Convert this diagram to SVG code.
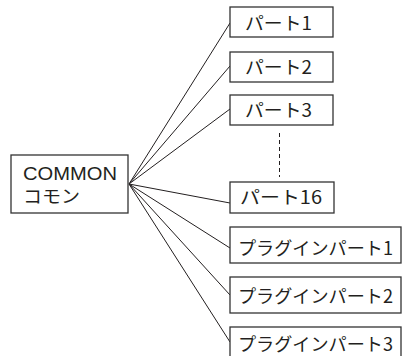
<svg xmlns="http://www.w3.org/2000/svg" width="402" height="356" viewBox="0 0 402 356">
<style>
.box{fill:#fff;stroke:#333;stroke-width:1.3}
.t{font-family:"Noto Sans CJK JP","Liberation Sans",sans-serif;font-size:18px;fill:#231f20}
.l{font-family:"Liberation Sans","Noto Sans CJK JP",sans-serif;font-size:18px;fill:#231f20}
.c{stroke:#231f20;stroke-width:1;fill:none}
.d{stroke:#231f20;stroke-width:1;fill:none;stroke-dasharray:4 3}
</style>
<rect width="402" height="356" fill="#fff"/>
<g id="connectors">
<line class="c" x1="129" y1="184" x2="230" y2="23"/>
<line class="c" x1="129" y1="184" x2="230" y2="66"/>
<line class="c" x1="129" y1="184" x2="230" y2="109"/>
<line class="c" x1="129" y1="184" x2="230" y2="203"/>
<line class="c" x1="129" y1="184" x2="230" y2="248"/>
<line class="c" x1="129" y1="184" x2="230" y2="295"/>
<line class="c" x1="129" y1="184" x2="230" y2="342"/>
<line class="d" x1="279.5" y1="133" x2="279.5" y2="177"/>
</g>
<g id="common">
<rect class="box" x="11" y="155" width="117" height="58"/>
<text class="l" x="23" y="179.5" textLength="94" lengthAdjust="spacingAndGlyphs">COMMON</text>
<text class="t" x="23" y="203" textLength="57" lengthAdjust="spacingAndGlyphs">コモン</text>
</g>
<g id="part1">
<rect class="box" x="230" y="7" width="103" height="30"/>
<text class="t" x="245" y="30" textLength="67" lengthAdjust="spacingAndGlyphs">パート1</text>
</g>
<g id="part2">
<rect class="box" x="230" y="52" width="103" height="30"/>
<text class="t" x="245" y="74" textLength="67" lengthAdjust="spacingAndGlyphs">パート2</text>
</g>
<g id="part3">
<rect class="box" x="230" y="95" width="103" height="30"/>
<text class="t" x="245" y="117" textLength="67" lengthAdjust="spacingAndGlyphs">パート3</text>
</g>
<g id="part16">
<rect class="box" x="230" y="182" width="104" height="31"/>
<text class="t" x="240" y="204" textLength="82" lengthAdjust="spacingAndGlyphs">パート16</text>
</g>
<g id="plugin1">
<rect class="box" x="230" y="227" width="171" height="36"/>
<text class="t" x="238" y="255" textLength="155" lengthAdjust="spacingAndGlyphs">プラグインパート1</text>
</g>
<g id="plugin2">
<rect class="box" x="230" y="277" width="171" height="36"/>
<text class="t" x="238" y="303" textLength="155" lengthAdjust="spacingAndGlyphs">プラグインパート2</text>
</g>
<g id="plugin3">
<rect class="box" x="230" y="327" width="171" height="36"/>
<text class="t" x="238" y="351" textLength="155" lengthAdjust="spacingAndGlyphs">プラグインパート3</text>
</g>
</svg>
